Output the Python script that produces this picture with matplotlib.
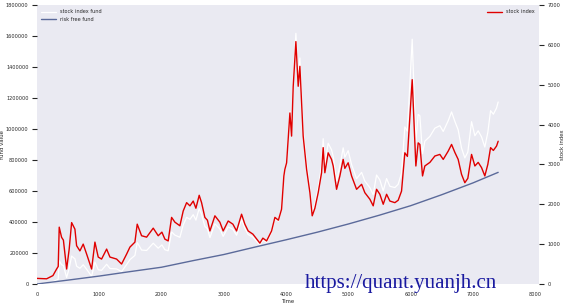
"""Stock index fund vs risk free fund, with the stock index on a second axis."""
import matplotlib

matplotlib.use("Agg")
import matplotlib.pyplot as plt  # noqa: E402
import seaborn as sns  # noqa: E402

# trading day index of each sample
days = [0, 156, 257, 316, 342, 358, 396, 425, 477, 518, 557, 610, 637, 690,
        743, 798, 878, 931, 984, 1038, 1119, 1172, 1279, 1359, 1440, 1493,
        1573, 1610, 1680, 1761, 1867, 1947, 2006, 2054, 2107, 2162, 2215,
        2295, 2348, 2403, 2456, 2509, 2552, 2605, 2643, 2696, 2737, 2777,
        2857, 2937, 2990, 3070, 3146, 3205, 3285, 3338, 3391, 3467, 3552,
        3579, 3627, 3687, 3767, 3820, 3876, 3927, 3964, 3980, 4008, 4061,
        4088, 4114, 4157, 4194, 4221, 4248, 4274, 4301, 4329, 4382, 4419,
        4462, 4515, 4569, 4595, 4622, 4675, 4729, 4756, 4810, 4863, 4916,
        4943, 4996, 5051, 5131, 5212, 5264, 5345, 5398, 5452, 5505, 5559,
        5613, 5666, 5746, 5799, 5853, 5906, 5947, 5987, 6024, 6051, 6083,
        6120, 6147, 6190, 6227, 6308, 6388, 6468, 6522, 6601, 6656, 6709,
        6762, 6816, 6869, 6917, 6977, 7030, 7083, 7137, 7190, 7238, 7282,
        7327, 7378, 7404]

# stock index level (right axis)
stock_index = [140, 130, 210, 375, 440, 1425, 1170, 1100, 375, 875, 1540,
               1375, 960, 830, 1000, 750, 375, 1050, 675, 625, 875, 675, 625,
               500, 750, 925, 1050, 1500, 1210, 1175, 1400, 1210, 1300, 1125,
               1080, 1670, 1550, 1460, 1830, 2040, 1960, 2080, 1900, 2225,
               2040, 1670, 1600, 1330, 1710, 1550, 1330, 1580, 1500, 1330,
               1750, 1500, 1330, 1250, 1080, 1025, 1150, 1080, 1330, 1670,
               1600, 1875, 2710, 2875, 3040, 4290, 3710, 4960, 6080, 4960,
               5460, 4540, 3710, 3290, 2875, 2290, 1710, 1900, 2290, 2790,
               3420, 2790, 3290, 3125, 2960, 2375, 2710, 3125, 2900, 3040,
               2710, 2375, 2500, 2290, 2125, 1960, 2375, 2250, 2000, 2250,
               2080, 2040, 2100, 2330, 3290, 3200, 4210, 5125, 4125, 2960,
               3540, 3500, 2710, 2960, 3050, 3210, 3250, 3125, 3330, 3500,
               3300, 3125, 2750, 2540, 2650, 3250, 2960, 3050, 2920, 2710,
               3000, 3420, 3350, 3460, 3580]

# value of the stock index fund (left axis)
index_fund = [2000, 8000, 15000, 25000, 30000, 150000, 124000, 119000, 42000,
              101000, 180000, 162000, 115000, 101000, 124000, 95000, 49000,
              141000, 92000, 88000, 127000, 100000, 97000, 80000, 125000,
              157000, 184000, 267000, 219000, 216000, 263000, 231000, 252000,
              221000, 214000, 336000, 315000, 301000, 381000, 430000, 417000,
              447000, 412000, 487000, 449000, 371000, 357000, 299000, 388000,
              355000, 307000, 368000, 353000, 314000, 417000, 359000, 319000,
              303000, 264000, 251000, 283000, 268000, 333000, 421000, 405000,
              478000, 694000, 739000, 784000, 1111000, 965000, 1295000,
              1617000, 1319000, 1458000, 1212000, 994000, 882000, 773000,
              618000, 462000, 515000, 623000, 762000, 937000, 767000, 908000,
              866000, 823000, 663000, 759000, 878000, 818000, 860000, 770000,
              679000, 720000, 664000, 621000, 576000, 703000, 671000, 600000,
              680000, 630000, 622000, 643000, 715000, 1013000, 986000,
              1297000, 1579000, 1275000, 915000, 1094000, 1085000, 840000,
              921000, 952000, 1005000, 1021000, 984000, 1052000, 1110000,
              1049000, 994000, 877000, 813000, 851000, 1047000, 956000,
              988000, 949000, 883000, 978000, 1118000, 1095000, 1135000,
              1174000]

# risk free fund (left axis)
rf_days = [0, 500, 1000, 1500, 2000, 2500, 3000, 3500, 4000, 4500, 5000,
           5500, 6000, 6500, 7000, 7404]
rf_value = [0, 25000, 51000, 80000, 108000, 150000, 190000, 238000, 285000,
            334000, 387000, 444000, 505000, 576000, 652000, 720000]

RED = "#E00000"
RF_COLOR = "#5B6A9A"
FS = 3.6

sns.set_style("darkgrid")
plt.rcParams["font.family"] = ["DejaVu Sans"]

fig, ax1 = plt.subplots(figsize=(5.68, 3.08), dpi=100)
fig.subplots_adjust(left=0.065, right=0.949, top=0.984, bottom=0.078)

ax1.plot(days, index_fund, color="white", linewidth=0.9,
         label="stock index fund")
ax1.plot(rf_days, rf_value, color=RF_COLOR, linewidth=1.0,
         label="risk free fund")
ax1.set_xlim(0, 8060)
ax1.set_ylim(0, 1800000)
ax1.set_yticks(range(0, 1800001, 200000))
ax1.ticklabel_format(style="plain", axis="y")
ax1.set_xlabel("Time", fontsize=FS + 0.3, labelpad=1)
ax1.set_ylabel("fund value", fontsize=FS + 0.3)
ax1.yaxis.set_label_coords(-0.063, 0.5)
ax1.tick_params(labelsize=FS, pad=2.5)
ax1.grid(False)
ax1.legend(loc="upper left", fontsize=FS, frameon=False, handlelength=3)

ax2 = ax1.twinx()
ax2.plot(days, stock_index, color=RED, linewidth=1.0, label="stock index")
ax2.set_ylim(0, 7000)
ax2.set_yticks(range(0, 7001, 1000))
ax2.grid(False)
ax2.set_ylabel("stock index", fontsize=FS + 0.3)
ax2.yaxis.set_label_coords(1.042, 0.5)
ax2.tick_params(labelsize=FS, pad=2.5)
ax2.legend(loc="upper right", fontsize=FS, frameon=False, handlelength=3)

for ax in (ax1, ax2):
    for spine in ax.spines.values():
        spine.set_visible(False)

fig.text(0.537, 0.081, "https://quant.yuanjh.cn", fontsize=15,
         family="Liberation Serif", color="#1A1AA0", va="center", ha="left")

fig.savefig("out.png", dpi=100)
